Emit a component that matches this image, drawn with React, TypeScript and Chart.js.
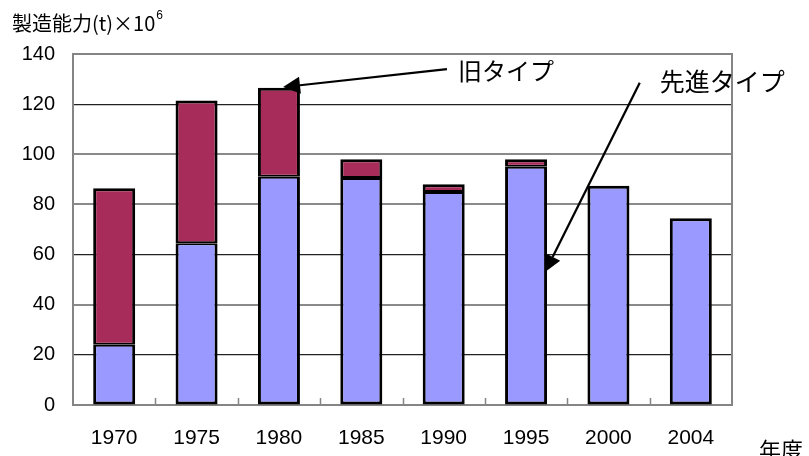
import React, { useEffect, useRef } from "react";
import { Chart, registerables } from "chart.js";

Chart.register(...registerables);

// ---- data ----
const years = ["1970", "1975", "1980", "1985", "1990", "1995", "2000", "2004"];
const advancedType = [24, 64.5, 91, 90.5, 85, 95, 87.5, 74.5];
const oldType: (number | null)[] = [62.5, 57, 35.5, 7.5, 3, 3, null, null];
const yMin = 0;
const yMax = 140;
const yStep = 20;

// ---- texts ----
const yTitle = "製造能力(t)×10";
const yTitleSup = "6";
const xTitle = "年度";
const oldLabel = "旧タイプ";
const advLabel = "先進タイプ";
const seriesNames = ["先進タイプ", "旧タイプ"];

// annotation arrows in data units: [category index, value]
const oldArrowFrom = [4.04, 134];
const oldArrowTo = [2.05, 126.8];
const advArrowFrom = [6.38, 128.5];
const advArrowTo = [5.23, 53];

const JP = '"Noto Sans CJK JP", "Noto Sans", sans-serif';
const NUM = '"Liberation Sans", Arial, sans-serif';

function drawArrow(ctx: CanvasRenderingContext2D, x1: number, y1: number, x2: number, y2: number) {
  const ang = Math.atan2(y2 - y1, x2 - x1);
  const headLen = 17;
  const headW = 8.5;
  const bx = x2 - headLen * Math.cos(ang);
  const by = y2 - headLen * Math.sin(ang);
  ctx.save();
  ctx.strokeStyle = "#000";
  ctx.fillStyle = "#000";
  ctx.lineWidth = 2.2;
  ctx.beginPath();
  ctx.moveTo(x1, y1);
  ctx.lineTo(bx, by);
  ctx.stroke();
  ctx.beginPath();
  ctx.moveTo(x2, y2);
  ctx.lineTo(bx + headW * Math.sin(ang), by - headW * Math.cos(ang));
  ctx.lineTo(bx - headW * Math.sin(ang), by + headW * Math.cos(ang));
  ctx.closePath();
  ctx.fill();
  ctx.restore();
}

const framePlugin = {
  id: "frame",
  beforeDatasetsDraw(chart: any) {
    const { ctx, chartArea } = chart;
    const { left, right, top, bottom } = chartArea;
    const xs = chart.scales.x;
    ctx.save();
    ctx.strokeStyle = "#858585";
    ctx.lineWidth = 2;
    ctx.strokeRect(left, top, right - left, bottom - top);
    // small tick marks at category boundaries
    ctx.lineWidth = 1.5;
    const n = years.length;
    for (let i = 1; i < n; i++) {
      const x = Math.round((xs.getPixelForValue(i - 1) + xs.getPixelForValue(i)) / 2) + 0.5;
      ctx.beginPath();
      ctx.moveTo(x, bottom);
      ctx.lineTo(x, bottom - 7);
      ctx.stroke();
    }
    ctx.restore();
  },
};

const annotPlugin = {
  id: "annot",
  afterDraw(chart: any) {
    const { ctx } = chart;
    const xs = chart.scales.x;
    const ys = chart.scales.y;
    const px = (p: number[]) => [xs.getPixelForValue(p[0]), ys.getPixelForValue(p[1])];

    ctx.save();
    // axis title top-left
    ctx.fillStyle = "#000";
    ctx.textBaseline = "alphabetic";
    ctx.textAlign = "left";
    ctx.font = `20px ${JP}`;
    ctx.fillText(yTitle, 12, 31);
    const w = ctx.measureText(yTitle).width;
    ctx.font = `12px ${NUM}`;
    ctx.fillText(yTitleSup, 12 + w + 1, 19);

    // x title
    ctx.font = `22px ${JP}`;
    ctx.fillText(xTitle, 759, 458);

    // arrows
    const [o1x, o1y] = px(oldArrowFrom);
    const [o2x, o2y] = px(oldArrowTo);
    drawArrow(ctx, o1x, o1y, o2x, o2y);
    const [a1x, a1y] = px(advArrowFrom);
    const [a2x, a2y] = px(advArrowTo);
    drawArrow(ctx, a1x, a1y, a2x, a2y);

    ctx.textBaseline = "middle";
    ctx.font = `24px ${JP}`;
    ctx.fillText(oldLabel, o1x + 11, o1y + 2);
    ctx.font = `25px ${JP}`;
    ctx.fillText(advLabel, a1x + 20, a1y - 1);
    ctx.restore();
  },
};

export default function App() {
  const ref = useRef<HTMLCanvasElement>(null);

  useEffect(() => {
    if (!ref.current) return;
    const chart = new Chart(ref.current, {
      type: "bar",
      data: {
        labels: years,
        datasets: [
          {
            label: seriesNames[0],
            data: advancedType,
            backgroundColor: "#9999FF",
            borderColor: "#000",
            borderWidth: (c: any) => ({
              left: 3,
              right: 3,
              bottom: 3,
              top: oldType[c.dataIndex] ? 2 : 3,
            }),
            borderSkipped: false,
            categoryPercentage: 1,
            barPercentage: 0.51,
          },
          {
            label: seriesNames[1],
            data: oldType,
            backgroundColor: "#A82C5A",
            borderColor: "#000",
            borderWidth: { left: 3, right: 3, top: 3, bottom: 2 },
            borderSkipped: false,
            categoryPercentage: 1,
            barPercentage: 0.51,
          },
        ],
      },
      options: {
        responsive: false,
        animation: false,
        devicePixelRatio: 1,
        layout: { padding: { top: 54, right: 77, left: 0, bottom: 0 } },
        plugins: {
          legend: { display: false },
          tooltip: { enabled: false },
          title: { display: false },
        },
        scales: {
          x: {
            stacked: true,
            grid: { display: false, drawTicks: false },
            border: { display: false },
            ticks: {
              color: "#000",
              font: { family: NUM, size: 21 },
              padding: 21,
            },
            afterFit: (s: any) => {
              s.height = 51;
            },
          },
          y: {
            stacked: true,
            min: yMin,
            max: yMax,
            grid: {
              drawTicks: false,
              color: (c: any) => {
                const v = c.tick?.value;
                if (v === 0 || v === 140) return "rgba(0,0,0,0)";
                return v === 40 || v === 80 || v === 100 ? "#8a8a8a" : "#222";
              },
              lineWidth: (c: any) => {
                const v = c.tick?.value;
                return v === 40 || v === 80 || v === 100 ? 2 : 1.2;
              },
            },
            border: { display: false },
            ticks: {
              stepSize: yStep,
              color: "#000",
              font: { family: NUM, size: 20 },
              padding: 18,
            },
            afterFit: (s: any) => {
              s.width = 73;
            },
          },
        },
      },
      plugins: [framePlugin, annotPlugin],
    });
    return () => chart.destroy();
  }, []);

  return (
    <div style={{ position: "fixed", left: 0, top: 0, width: 809, height: 456, background: "#fff" }}>
      <canvas ref={ref} width={809} height={456} style={{ display: "block" }} />
    </div>
  );
}
